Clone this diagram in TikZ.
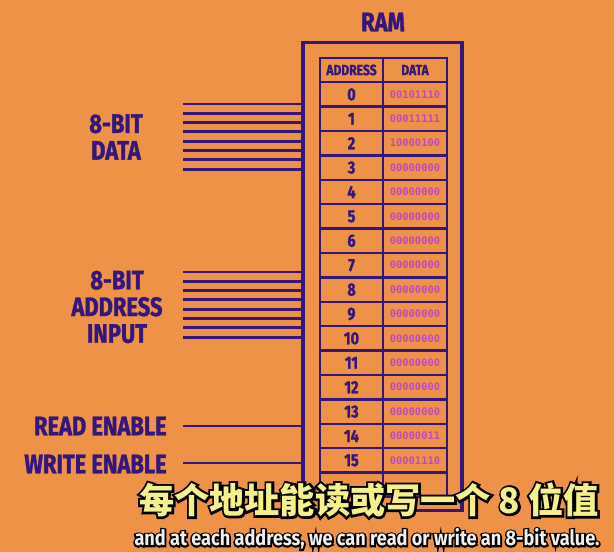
\documentclass[tikz,border=0pt]{standalone}
\usepackage{fontspec}
\usetikzlibrary{calc}
\newfontfamily\lblfont[FakeStretch=0.82, BoldFeatures={FakeBold=1.2}]{Fira Sans}
\newfontfamily\bitfont{DejaVu Sans Mono}
\newfontfamily\cjkfont{Noto Sans CJK SC}
\newfontfamily\subfont[FakeStretch=0.86]{Fira Sans}
\definecolor{ramorange}{RGB}{238,146,72}
\definecolor{ramink}{RGB}{52,22,124}
\definecolor{bitpink}{RGB}{190,72,200}
\definecolor{subyellow}{RGB}{244,240,140}
\definecolor{subwhite}{RGB}{242,240,236}
\newcommand\strokedtext[2]{\special{pdf:literal direct #1 w 0 0 0 RG 0 0 0 rg 2 Tr}#2\special{pdf:literal direct 0 Tr}}

\begin{document}
\begin{tikzpicture}[
          x=0.025cm, y=-0.025cm,
          wire/.style={draw=ramink, line width=2pt},
          biglbl/.style={font=\lblfont\bfseries\fontsize{19pt}{19pt}\selectfont,
                         text=ramink, align=center, inner sep=0pt},
          rambox/.style={draw=ramink, line width=2.2pt, inner sep=0pt,
                         minimum width=3.975cm, minimum height=11.675cm},
          cell/.style={draw=ramink, line width=1.8pt, inner sep=0pt,
                       minimum height=0.61cm, text=ramink},
          hdrcell/.style={cell, font=\lblfont\bfseries\fontsize{10.5pt}{10.5pt}\selectfont},
          addrcell/.style={cell, minimum width=1.575cm,
                           font=\lblfont\bfseries\fontsize{12.5pt}{12.5pt}\selectfont},
          datacell/.style={cell, minimum width=1.6cm, text=bitpink,
                           font=\bitfont\bfseries\fontsize{7.4pt}{8pt}\selectfont},
          subcn/.style={font=\cjkfont\bfseries\fontsize{25pt}{25pt}\selectfont,
                        text=subyellow, inner sep=0pt},
          suben/.style={font=\subfont\bfseries\fontsize{15pt}{15pt}\selectfont,
                        text=subwhite, inner sep=0pt}
        ]
          \fill[ramorange] (0,0) rectangle (614,552);

          \node[biglbl] (ramtitle) at (383,22) {RAM};
          \node[rambox] (ram) at (382.5,276.5) {};

          \node[hdrcell, minimum width=1.575cm] (hA) at (351.5,70) {ADDRESS};
          \node[hdrcell, minimum width=1.6cm] (hD) at (415,70) {DATA};
          \foreach \bits [count=\r from 0] in {00101110,00011111,10000100,
              00000000,00000000,00000000,00000000,00000000,00000000,00000000,
              00000000,00000000,00000000,00000000,00000011,00001110}{
            \node[addrcell] (a\r) at (351.5,{70+24.4*(\r+1)}) {\r};
            \node[datacell] (d\r) at (415,{70+24.4*(\r+1)}) {\bits};
          }
          \node[addrcell] (a16) at (351.5,{70+24.4*17}) {};
          \node[datacell] (d16) at (415,{70+24.4*17}) {};

          \node[biglbl] (datalbl) at (116,137) {8-BIT\\DATA};
          \node[biglbl] (addrlbl) at (117,307) {8-BIT\\ADDRESS\\INPUT};
          \node[biglbl, anchor=east] (readlbl) at (167,426) {READ ENABLE};
          \node[biglbl, anchor=east] (writelbl) at (167,464) {WRITE ENABLE};

          \foreach \i in {0,...,7}{
            \coordinate (dw\i) at (183,{104+9.3*\i});
            \draw[wire] (dw\i) -- (dw\i -| ram.west);
            \coordinate (aw\i) at (183,{272+9.3*\i});
            \draw[wire] (aw\i) -- (aw\i -| ram.west);
          }
          \coordinate (rw) at (183,426);
          \coordinate (ww) at (183,463);
          \draw[wire] (rw) -- (rw -| ram.west);
          \draw[wire] (ww) -- (ww -| ram.west);

          \node[subcn, text=black] (subtopbg) at (369,500)
            {\strokedtext{3.2}{每个地址能读或写一个 8 位值}};
          \node[subcn] (subtop) at (369,500) {每个地址能读或写一个 8 位值};
          \node[suben, text=black] (subbotbg) at (367,539)
            {\strokedtext{2.4}{and at each address, we can read or write an 8-bit value.}};
          \node[suben] (subbot) at (367,539)
            {and at each address, we can read or write an 8-bit value.};
        \end{tikzpicture}
\end{document}
